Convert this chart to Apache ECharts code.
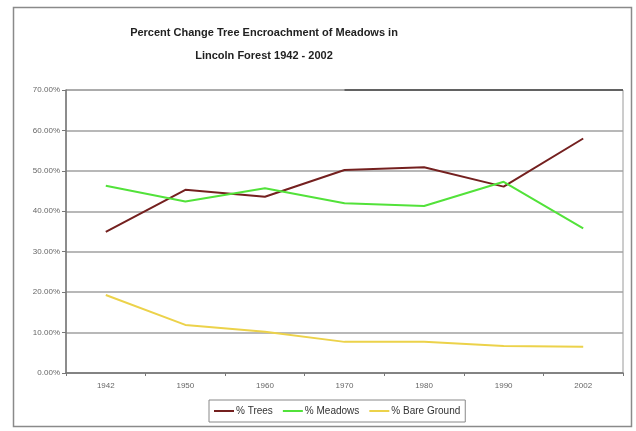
<!DOCTYPE html>
<html>
<head>
<meta charset="utf-8">
<script src="https://cdn.jsdelivr.net/npm/echarts@6/dist/echarts.min.js"></script>
<style>
  html, body { margin: 0; padding: 0; background: #fff; }
  #chart { width: 636px; height: 431px; }
</style>
</head>
<body>
<div id="chart"></div>
<script>
// Survey years along the x axis
const years = ['1942', '1950', '1960', '1970', '1980', '1990', '2002'];

// Percent cover per survey year
const treesPct = [34.9, 45.3, 43.6, 50.2, 50.9, 46.1, 58.0];
const meadowsPct = [46.3, 42.4, 45.7, 42.0, 41.3, 47.3, 35.8];
const bareGroundPct = [19.3, 11.9, 10.2, 7.7, 7.7, 6.7, 6.5];

const seriesNames = ['% Trees', '% Meadows', '% Bare Ground'];
const seriesColors = ['#74201f', '#52e23a', '#ecd24a'];

const FONT = 'Liberation Sans, Arial, sans-serif';

const chart = echarts.init(document.getElementById('chart'), null, { renderer: 'canvas' });

const lineSeries = [treesPct, meadowsPct, bareGroundPct].map((vals, i) => ({
  name: seriesNames[i],
  type: 'line',
  data: vals,
  symbol: 'none',
  smooth: false,
  lineStyle: { color: seriesColors[i], width: 2 },
  itemStyle: { color: seriesColors[i] },
  z: 3 + i
}));

chart.setOption({
  backgroundColor: '#ffffff',
  animation: false,
  title: {
    text: 'Percent Change Tree Encroachment of Meadows in\nLincoln Forest 1942 - 2002',
    left: 259,
    top: 16,
    textAlign: 'center',
    textStyle: {
      fontFamily: FONT,
      fontSize: 11,
      fontWeight: 'bold',
      color: '#222',
      lineHeight: 23
    }
  },
  legend: {
    data: seriesNames,
    left: 209,
    top: 400,
    itemWidth: 20,
    itemHeight: 2,
    itemGap: 10,
    padding: [6, 5],
    borderColor: '#888',
    borderWidth: 1,
    backgroundColor: '#fff',
    icon: 'rect',
    textStyle: {
      fontFamily: FONT,
      fontSize: 10,
      color: '#333',
      padding: [0, 0, 0, -3]
    }
  },
  grid: {
    left: 66,
    right: 13,
    top: 90,
    bottom: 58,
    show: true,
    borderColor: '#9a9a9a',
    borderWidth: 1,
    backgroundColor: '#fff'
  },
  xAxis: {
    type: 'category',
    data: years,
    boundaryGap: true,
    axisLine: { lineStyle: { color: '#777', width: 1.5 } },
    axisTick: { show: true, length: 3, lineStyle: { color: '#777' } },
    axisLabel: {
      fontFamily: FONT,
      fontSize: 8,
      color: '#666',
      margin: 9
    },
    splitLine: { show: false }
  },
  yAxis: {
    type: 'value',
    min: 0,
    max: 70,
    interval: 10,
    axisLine: { show: true, lineStyle: { color: '#777', width: 1.5 } },
    axisTick: { show: true, length: 4, lineStyle: { color: '#777' } },
    axisLabel: {
      fontFamily: FONT,
      fontSize: 8,
      color: '#666',
      margin: 6,
      formatter: v => v.toFixed(2) + '%'
    },
    splitLine: { show: true, lineStyle: { color: '#a0a0a0', width: 1.5 } }
  },
  series: lineSeries
});

// Outer chart-area frame and the darker stretch of the top border, placed from the grid's own scale
const gridRect = chart.getModel().getComponent('grid', 0).coordinateSystem.getRect();
const topLeft = chart.convertToPixel({ xAxisIndex: 0, yAxisIndex: 0 }, [years[3], 70]);
chart.setOption({
  graphic: [
    {
      type: 'rect',
      shape: { x: 13.5, y: 7.5, width: 618, height: 419 },
      style: { fill: 'none', stroke: '#8a8a8a', lineWidth: 1.5 },
      silent: true,
      z: -1
    },
    {
      type: 'line',
      shape: { x1: topLeft[0], y1: gridRect.y, x2: gridRect.x + gridRect.width, y2: gridRect.y },
      style: { stroke: '#4a4a4a', lineWidth: 1.5 },
      silent: true,
      z: 10
    }
  ]
});
</script>
</body>
</html>
